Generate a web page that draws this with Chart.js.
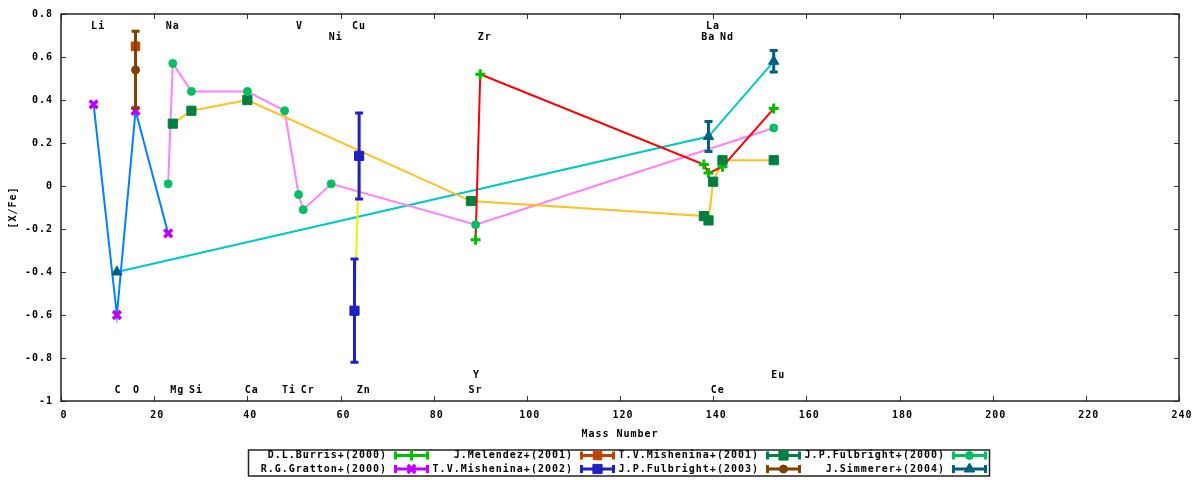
<!DOCTYPE html>
<html>
<head>
<meta charset="utf-8">
<script src="https://cdn.jsdelivr.net/npm/chart.js@4"></script>
<style>
  html, body { margin: 0; background: #fff; }
</style>
</head>
<body>
<canvas id="chart" width="1200" height="480"></canvas>
<script>
// values
const seriesNames = ['D.L.Burris+(2000)', 'J.Melendez+(2001)', 'T.V.Mishenina+(2001)', 'J.P.Fulbright+(2000)',
                     'R.G.Gratton+(2000)', 'T.V.Mishenina+(2002)', 'J.P.Fulbright+(2003)', 'J.Simmerer+(2004)'];

const burrisMass = [89, 90, 138, 139, 142, 153];
const burrisVal = [-0.25, 0.52, 0.10, 0.06, 0.09, 0.36];

const melendezMass = [16];
const melendezVal = [0.65];

const mish01Mass = [24, 28, 40, 88, 138, 139, 140, 142, 153];
const mish01Val = [0.29, 0.35, 0.40, -0.07, -0.14, -0.16, 0.02, 0.12, 0.12];

const fulb00Mass = [23, 24, 28, 40, 48, 51, 52, 58, 89, 153];
const fulb00Val = [0.01, 0.57, 0.44, 0.44, 0.35, -0.04, -0.11, 0.01, -0.18, 0.27];

const grattonMass = [7, 12, 16, 23];
const grattonVal = [0.38, -0.60, 0.35, -0.22];

const mish02Mass = [63, 64];
const mish02Val = [-0.58, 0.14];
const mish02Err = [0.24, 0.20];

const fulb03Mass = [16];
const fulb03Val = [0.54];
const fulb03Err = [0.18];

const simmMass = [12, 139, 153];
const simmVal = [-0.40, 0.23, 0.58];
const simmErr = [0, 0.07, 0.05];

// element names written inside the plot
const elemNames = ['Li', 'Na', 'V', 'Cu', 'Ni', 'Zr', 'La', 'Ba', 'Nd',
                   'C', 'O', 'Mg', 'Si', 'Ca', 'Ti', 'Cr', 'Zn', 'Y', 'Sr', 'Ce', 'Eu'];
const elemMass = [7, 23, 51, 63, 58, 90, 139, 138, 142,
                  12, 16, 24, 28, 40, 48, 52, 64, 89, 88, 140, 153];
const elemLabelY = [0.74, 0.74, 0.74, 0.74, 0.69, 0.69, 0.74, 0.69, 0.69,
                    -0.95, -0.95, -0.95, -0.95, -0.95, -0.95, -0.95, -0.95, -0.88, -0.95, -0.95, -0.88];

const xTickValues = [0, 20, 40, 60, 80, 100, 120, 140, 160, 180, 200, 220, 240];
const yTickValues = [-1, -0.8, -0.6, -0.4, -0.2, 0, 0.2, 0.4, 0.6, 0.8];

const toPoints = (mass, val) => mass.map((m, i) => ({ x: m, y: val[i] }));

// one entry per legend item (gnuplot colours), line = the connecting line colour
const series = [
  { mass: burrisMass, val: burrisVal, err: null, color: '#00c000', style: 'cross', r: 5, bw: 3, line: '#ff0000' },
  { mass: melendezMass, val: melendezVal, err: null, color: '#c04000', style: 'rect', r: 6, bw: 1, line: null },
  { mass: mish01Mass, val: mish01Val, err: null, color: '#008040', style: 'rect', r: 6.5, bw: 1, line: '#ffc020' },
  { mass: fulb00Mass, val: fulb00Val, err: null, color: '#00c060', style: 'circle', r: 4, bw: 1, line: '#ff80ff' },
  { mass: grattonMass, val: grattonVal, err: null, color: '#c000ff', style: 'crossRot', r: 5.5, bw: 3.5, line: '#0080ff' },
  { mass: mish02Mass, val: mish02Val, err: mish02Err, color: '#2020c0', style: 'rect', r: 6.5, bw: 1, line: '#eeee00' },
  { mass: fulb03Mass, val: fulb03Val, err: fulb03Err, color: '#804000', style: 'circle', r: 4, bw: 1, line: null },
  { mass: simmMass, val: simmVal, err: simmErr, color: '#006080', style: 'triangle', r: 6, bw: 1, line: '#00c8c8' },
];

const datasets = [];
series.forEach((s, i) => {
  datasets.push({
    label: seriesNames[i],
    data: toPoints(s.mass, s.val),
    errors: s.err,
    showLine: false,
    pointStyle: s.style,
    pointRadius: s.r,
    pointBorderWidth: s.bw,
    pointBackgroundColor: s.color,
    pointBorderColor: s.color,
    backgroundColor: s.color,
    borderColor: s.color,
    order: series.length - i, // later legend entries sit on top, like gnuplot
  });
  if (s.line) {
    datasets.push({
      label: '',
      data: toPoints(s.mass, s.val),
      showLine: true,
      pointRadius: 0,
      borderColor: s.line,
      borderWidth: 2,
      tension: 0,
      order: 20,
    });
  }
});

const FONT = "bold 10px 'DejaVu Sans Mono', monospace";

const gnuplotLook = {
  id: 'gnuplotLook',
  beforeUpdate(chart) { chart.ctx.letterSpacing = '1px'; },
  beforeDraw(chart) { chart.ctx.letterSpacing = '1px'; },
  beforeDatasetDraw(chart, args) {
    // error bars, drawn just under their own markers
    const ds = chart.data.datasets[args.index];
    if (!ds.errors) return;
    const ctx = chart.ctx, xs = chart.scales.x, ys = chart.scales.y;
    ctx.save();
    ctx.strokeStyle = ds.borderColor;
    ctx.lineWidth = 3;
    ds.data.forEach((p, i) => {
      const e = ds.errors[i];
      if (!e) return;
      const x = xs.getPixelForValue(p.x);
      const y1 = ys.getPixelForValue(p.y + e);
      const y2 = ys.getPixelForValue(p.y - e);
      ctx.beginPath();
      ctx.moveTo(x, y1); ctx.lineTo(x, y2);
      ctx.moveTo(x - 4, y1); ctx.lineTo(x + 4, y1);
      ctx.moveTo(x - 4, y2); ctx.lineTo(x + 4, y2);
      ctx.stroke();
    });
    ctx.restore();
  },
  afterDraw(chart) {
    const ctx = chart.ctx, xs = chart.scales.x, ys = chart.scales.y;
    const a = chart.chartArea;
    ctx.save();
    ctx.letterSpacing = '1px';

    // inward ticks on all four sides
    ctx.strokeStyle = '#333';
    ctx.lineWidth = 1;
    ctx.beginPath();
    xTickValues.forEach(v => {
      const x = Math.round(xs.getPixelForValue(v)) + 0.5;
      ctx.moveTo(x, a.bottom); ctx.lineTo(x, a.bottom - 5);
      ctx.moveTo(x, a.top); ctx.lineTo(x, a.top + 5);
    });
    yTickValues.forEach(v => {
      const y = Math.round(ys.getPixelForValue(v)) + 0.5;
      ctx.moveTo(a.left, y); ctx.lineTo(a.left + 5, y);
      ctx.moveTo(a.right, y); ctx.lineTo(a.right - 5, y);
    });
    ctx.stroke();

    // frame
    ctx.strokeStyle = '#222';
    ctx.lineWidth = 1.5;
    ctx.strokeRect(a.left, a.top, a.right - a.left, a.bottom - a.top);

    // element labels
    ctx.fillStyle = '#000';
    ctx.font = FONT;
    ctx.textAlign = 'left';
    ctx.textBaseline = 'middle';
    elemNames.forEach((n, i) => {
      ctx.fillText(n, xs.getPixelForValue(elemMass[i]) - 2.5, ys.getPixelForValue(elemLabelY[i]));
    });

    // axis titles
    ctx.textAlign = 'center';
    ctx.fillText('Mass Number', (a.left + a.right) / 2, 434);
    ctx.save();
    ctx.translate(13, (a.top + a.bottom) / 2);
    ctx.rotate(-Math.PI / 2);
    ctx.fillText('[X/Fe]', 0, 0);
    ctx.restore();

    // legend box, 2 rows x 4 columns, text then sample
    ctx.strokeStyle = '#222';
    ctx.lineWidth = 1.5;
    ctx.strokeRect(248.5, 450, 741, 26);
    ctx.textAlign = 'right';
    series.forEach((s, i) => {
      const col = i % 4, row = Math.floor(i / 4);
      const tx = 387 + col * 186, ty = 455.5 + row * 13.5;
      ctx.fillStyle = '#000';
      ctx.fillText(seriesNames[i], tx, ty);
      const x0 = tx + 7, x1 = tx + 42;
      ctx.strokeStyle = s.color;
      ctx.fillStyle = s.color;
      ctx.lineWidth = 3;
      ctx.beginPath();
      ctx.moveTo(x0, ty); ctx.lineTo(x1, ty);
      ctx.moveTo(x0 + 1.5, ty - 4); ctx.lineTo(x0 + 1.5, ty + 4);
      ctx.moveTo(x1 - 1.5, ty - 4); ctx.lineTo(x1 - 1.5, ty + 4);
      ctx.stroke();
      ctx.lineWidth = s.bw;
      Chart.helpers.drawPoint(ctx, { pointStyle: s.style, radius: s.r, borderWidth: s.bw, rotation: 0 }, (x0 + x1) / 2, ty);
    });
    ctx.restore();
  }
};

Chart.defaults.font.family = "'DejaVu Sans Mono', monospace";
Chart.defaults.font.size = 10;
Chart.defaults.font.weight = 'bold';
Chart.defaults.color = '#000';

new Chart(document.getElementById('chart'), {
  type: 'scatter',
  data: { datasets },
  options: {
    responsive: false,
    animation: false,
    devicePixelRatio: 1,
    layout: { padding: { left: 0, top: 13, right: 21, bottom: 0 } },
    plugins: { legend: { display: false }, tooltip: { enabled: false } },
    scales: {
      x: {
        type: 'linear', min: 0, max: 240,
        grid: { display: false, drawTicks: false },
        border: { display: false },
        afterBuildTicks: s => { s.ticks = xTickValues.map(v => ({ value: v })); },
        afterFit: s => { s.height = 79; },
        ticks: { padding: 8, labelOffset: 3, autoSkip: false, maxRotation: 0, callback: v => String(v) },
      },
      y: {
        type: 'linear', min: -1, max: 0.8,
        grid: { display: false, drawTicks: false },
        border: { display: false },
        afterBuildTicks: s => { s.ticks = yTickValues.map(v => ({ value: v })); },
        afterFit: s => { s.width = 61; },
        ticks: { padding: 8, autoSkip: false, callback: v => String(Math.round(v * 10) / 10) },
      },
    },
  },
  plugins: [gnuplotLook],
});
</script>
</body>
</html>
